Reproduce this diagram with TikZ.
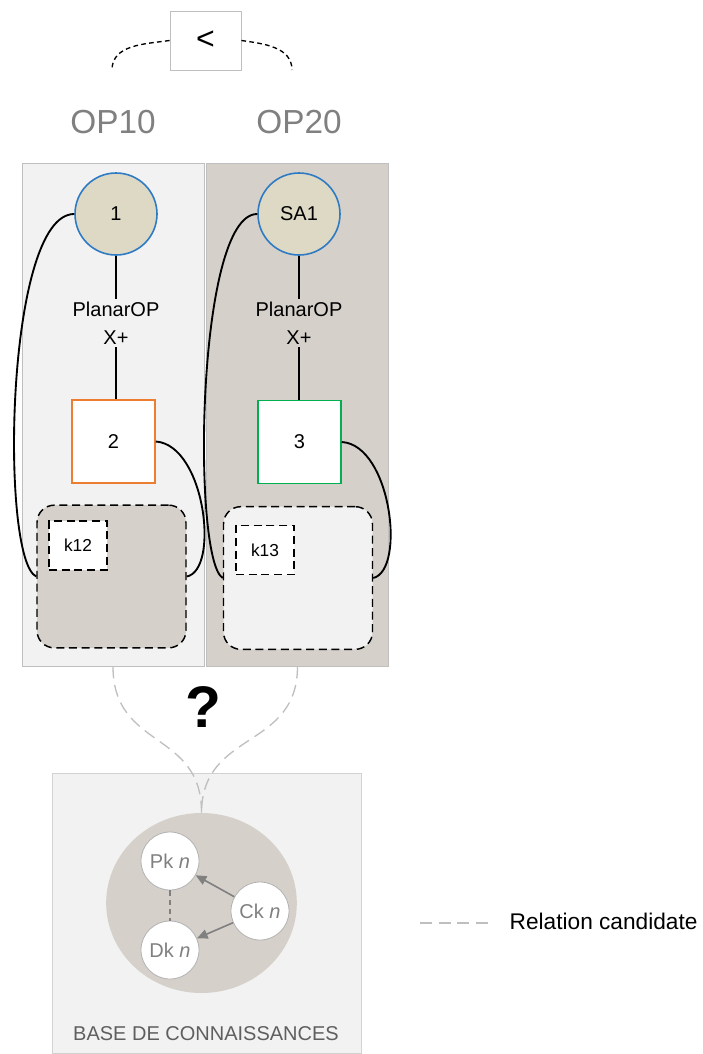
\documentclass[tikz,border=0pt]{standalone}
\usepackage{fontspec}
\setmainfont{Liberation Sans}
\usetikzlibrary{arrows.meta,shapes.geometric}
\definecolor{Ink}{HTML}{000000}
\definecolor{PanelLight}{HTML}{F2F2F2}
\definecolor{PanelDark}{HTML}{D5D0CA}
\definecolor{PanelEdge}{HTML}{BFBFBF}
\definecolor{StepFill}{HTML}{DDD9C4}
\definecolor{StepEdge}{HTML}{2E7BC4}
\definecolor{FaceOrange}{HTML}{ED7D31}
\definecolor{FaceGreen}{HTML}{00B050}
\definecolor{Muted}{HTML}{808080}
\definecolor{KbText}{HTML}{5F5F5F}
\definecolor{Candidate}{HTML}{BFBFBF}

\begin{document}
\begin{tikzpicture}[x=0.75pt,y=-0.75pt,
  panel/.style={draw=PanelEdge,line width=0.6pt,minimum width=136.5pt,minimum height=377.25pt,inner sep=0pt},
  opstep/.style={circle,draw=StepEdge,fill=StepFill,line width=1.2pt,minimum size=61.5pt,inner sep=0pt,font=\fontsize{15}{18}\selectfont},
  opface/.style={draw,fill=white,line width=1.2pt,minimum size=62.25pt,inner sep=0pt,font=\fontsize{15}{18}\selectfont},
  oplabel/.style={align=center,inner sep=2pt,font=\fontsize{15}{21}\selectfont},
  kgroup/.style={draw=Ink,dash pattern=on 6pt off 3.5pt,line width=1.1pt,rounded corners=13pt,minimum width=111.75pt,minimum height=107pt,inner sep=0pt},
  kbox/.style={draw=Ink,fill=white,dash pattern=on 6pt off 3.5pt,line width=1.1pt,minimum width=43.5pt,minimum height=36.75pt,inner sep=0pt,font=\fontsize{13}{15}\selectfont},
  link/.style={draw=Ink,line width=1.4pt},
  candidate/.style={draw=Candidate,dash pattern=on 9pt off 5pt,line width=1pt},
  kbnode/.style={circle,draw=Muted!60,fill=white,line width=0.6pt,minimum size=43.5pt,inner sep=0pt,text=Muted,font=\fontsize{15}{18}\selectfont},
  kbarrow/.style={draw=Muted,line width=1.2pt,-{Triangle[length=8pt,width=7pt]}}]
\useasboundingbox (0,0) rectangle (703,1054);

% precedence
\node[draw=PanelEdge,fill=white,line width=0.6pt,minimum width=53.25pt,minimum height=44.25pt,inner sep=0pt,font=\fontsize{24}{28}\selectfont] (less) at (205.5,40.5) {<};
\coordinate (arcL) at (112,70);
\coordinate (arcR) at (292,70);
\draw[Ink,dash pattern=on 3.5pt off 2.5pt,line width=1pt] (less.west) to[out=188,in=90] (arcL);
\draw[Ink,dash pattern=on 3.5pt off 2.5pt,line width=1pt] (less.east) to[out=-8,in=90] (arcR);
\node[text=Muted,font=\fontsize{25}{30}\selectfont] (op10) at (113,122) {OP10};
\node[text=Muted,font=\fontsize{25}{30}\selectfont] (op20) at (299,122) {OP20};

% operations
\node[panel,fill=PanelLight] (opL) at (113,414.5) {};
\node[panel,fill=PanelDark] (opR) at (297.5,414.5) {};

\node[opstep] (s1) at (116,214) {1};
\node[opstep] (sSA1) at (299,214) {SA1};
\node[oplabel] (plL) at (116,323) {PlanarOP\\X+};
\node[oplabel] (plR) at (299,323) {PlanarOP\\X+};
\node[opface,draw=FaceOrange] (f2) at (113.5,441.5) {2};
\node[opface,draw=FaceGreen] (f3) at (299.5,442) {3};
\node[kgroup,fill=PanelDark] (gL) at (111.5,576.5) {};
\node[kgroup,fill=PanelLight] (gR) at (298,578) {};
\node[kbox] (k12) at (78,545.5) {k12};
\node[kbox] (k13) at (265,550) {k13};

\draw[link] (s1.south) -- (plL.north);
\draw[link] (plL.south) -- (plL.south |- f2.north);
\draw[link] (sSA1.south) -- (plR.north);
\draw[link] (plR.south) -- (plR.south |- f3.north);
\draw[link] (s1.west) .. controls (5,214) and (0,560) .. (gL.west);
\draw[link] (f2.east) .. controls (205,445) and (220,570) .. (gL.east);
\draw[link] (sSA1.west) .. controls (196,214) and (192,560) .. (gR.west);
\draw[link] (f3.east) .. controls (391,445) and (406,570) .. (gR.east);

\node[font=\bfseries\fontsize{44}{48}\selectfont] (ask) at (203,707) {?};

% knowledge base
\node[draw=PanelEdge!70,fill=PanelLight,line width=0.6pt,minimum width=231.75pt,minimum height=210pt,inner sep=0pt] (kb) at (206.5,913) {};
\node[ellipse,fill=PanelDark,minimum width=143pt,minimum height=135pt,inner sep=0pt] (kbc) at (201.5,903) {};
\node[kbnode] (pk) at (170,861) {Pk \textit{n}};
\node[kbnode] (dk) at (170,950) {Dk \textit{n}};
\node[kbnode] (ck) at (260,911) {Ck \textit{n}};
\draw[kbarrow] (ck) -- (pk);
\draw[kbarrow] (ck) -- (dk);
\draw[Muted,dash pattern=on 4pt off 3pt,line width=1.1pt] (pk) -- (dk);
\node[text=KbText,font=\fontsize{15}{18}\selectfont] (kbt) at (206,1034) {BASE DE CONNAISSANCES};

\draw[candidate] (opL.south) .. controls (113,750) and (202,730) .. (kbc.north);
\draw[candidate] (opR.south) .. controls (297.5,750) and (202,730) .. (kbc.north);

% legend
\coordinate (legA) at (420,923);
\coordinate (legB) at (488,923);
\draw[candidate] (legA) -- (legB);
\node[anchor=west,font=\fontsize{17}{20}\selectfont] (legT) at (505,921) {Relation candidate};
\end{tikzpicture}
\end{document}
